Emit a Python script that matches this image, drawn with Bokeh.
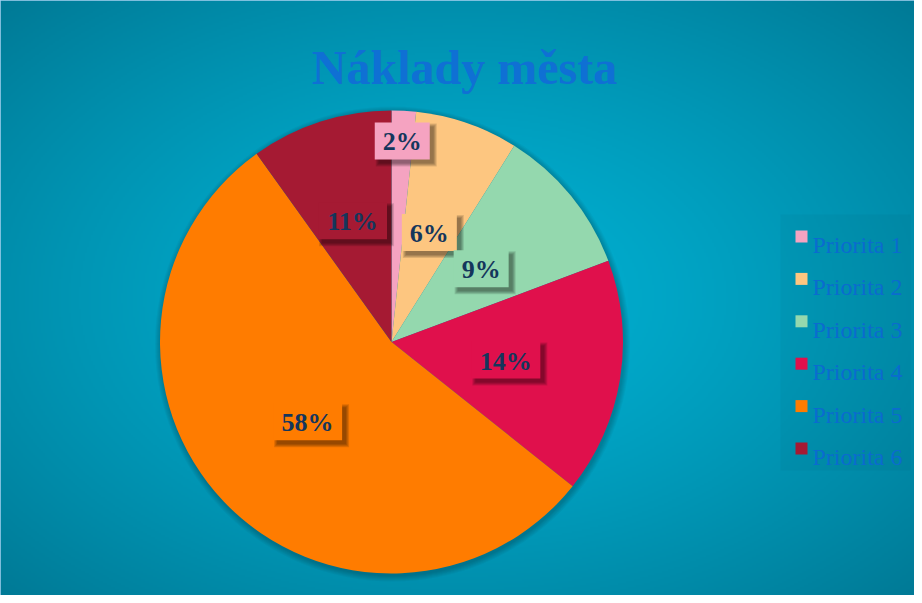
import numpy as np
from bokeh.plotting import figure
from bokeh.models import Range1d
from bokeh.core.properties import value
from bokeh.embed import file_html
from bokeh.resources import INLINE

# ---- data ----
categories = ["Priorita 1", "Priorita 2", "Priorita 3", "Priorita 4", "Priorita 5", "Priorita 6"]
shares = [1.7, 7.2, 10.4, 16.4, 54.4, 9.9]          # slice sizes as drawn (%)
label_texts = ["2%", "6%", "9%", "14%", "58%", "11%"]  # data labels as printed
colors = ["#F5A3C1", "#FDC680", "#94D8AE", "#E0104C", "#FF7C00", "#A51A33"]
title_text = "Náklady města"

W, H = 914, 595
FONT = value("Liberation Serif")


def X(px):
    return px - 8


def Y(py):
    return H - (py - 8)


p = figure(width=W, height=H, x_range=Range1d(0, W), y_range=Range1d(0, H),
           output_backend="svg", toolbar_location=None, min_border=0,
           x_axis_type=None, y_axis_type=None, title=None)
p.grid.visible = False
p.background_fill_color = "#0099B8"
p.border_fill_color = "#0099B8"
p.outline_line_color = "#A9D3F2"
p.outline_line_width = 2

# ---- radial background gradient ----
gx = np.linspace(0, W, W // 2)
gy = np.linspace(0, H, H // 2)
XX, YY = np.meshgrid(gx, gy)
cx, cy = W * 0.5, H * 0.5
d = np.sqrt(((XX - cx) / (W / 2)) ** 2 + ((YY - cy) / (H / 2)) ** 2) / np.sqrt(2)
t = np.clip(d, 0, 1) ** 1.3
c0 = np.array([0, 178, 212])
c1 = np.array([0, 122, 150])
img = np.empty(XX.shape, dtype=np.uint32)
view = img.view(dtype=np.uint8).reshape(XX.shape + (4,))
for k in range(3):
    view[..., k] = (c0[k] + (c1[k] - c0[k]) * t).astype(np.uint8)
view[..., 3] = 255
p.image_rgba(image=[img], x=0, y=0, dw=W, dh=H)

# ---- pie ----
CX, CY, R = X(399), Y(349.5), 231.5
# soft shadow around the pie
for k in range(1, 7):
    p.circle(x=CX + 1, y=CY - 2, radius=R + k, fill_color="black", fill_alpha=0.035, line_color=None)

frac = np.array(shares) / sum(shares)
cum = np.concatenate([[0.0], np.cumsum(frac)])
start = np.pi / 2 - 2 * np.pi * cum[:-1]
end = np.pi / 2 - 2 * np.pi * cum[1:]
p.wedge(x=CX, y=CY, radius=R, start_angle=start, end_angle=end, direction="clock",
        fill_color=colors, line_color=None)

# ---- data labels ----
mid = (cum[:-1] + cum[1:]) / 2
ang = np.pi / 2 - 2 * np.pi * mid
rf = np.array([0.87, 0.5, 0.5, 0.5, 0.5, 0.55])
lx = CX + rf * R * np.cos(ang)
ly = CY + rf * R * np.sin(ang)
bw = np.array([14 * len(s) + 27 for s in label_texts], dtype=float)
bh = 37.0

for k in range(4):
    p.rect(x=lx + 4, y=ly - 4, width=bw + 2 * k, height=bh + 2 * k,
           fill_color="black", fill_alpha=0.12, line_color=None)
p.rect(x=lx, y=ly, width=bw, height=bh, fill_color=colors, line_color=None)
p.text(x=lx, y=ly - 1, text=label_texts, text_font=FONT, text_font_style="bold",
       text_font_size="26px", text_color="#14365C", text_align="center", text_baseline="middle")

# ---- title ----
p.text(x=[X(472)], y=[Y(75)], text=[title_text], text_font=FONT, text_font_style="bold",
       text_font_size="48px", text_color="#0F70D4", text_align="center", text_baseline="alphabetic")

# ---- legend ----
p.rect(x=X(853), y=Y(350), width=130, height=256, fill_color="black", fill_alpha=0.03, line_color=None)
rows = np.arange(len(categories))
sq_y = np.array([Y(244 + 42.4 * i) for i in rows])
p.rect(x=X(809), y=sq_y, width=12, height=12, fill_color=colors, line_color=None)
p.text(x=X(820), y=sq_y - 8.5, text=categories, text_font=FONT, text_font_size="24px",
       text_color="#0B6BCF", text_align="left", text_baseline="alphabetic")

open("out.html", "w").write(file_html(p, INLINE))
